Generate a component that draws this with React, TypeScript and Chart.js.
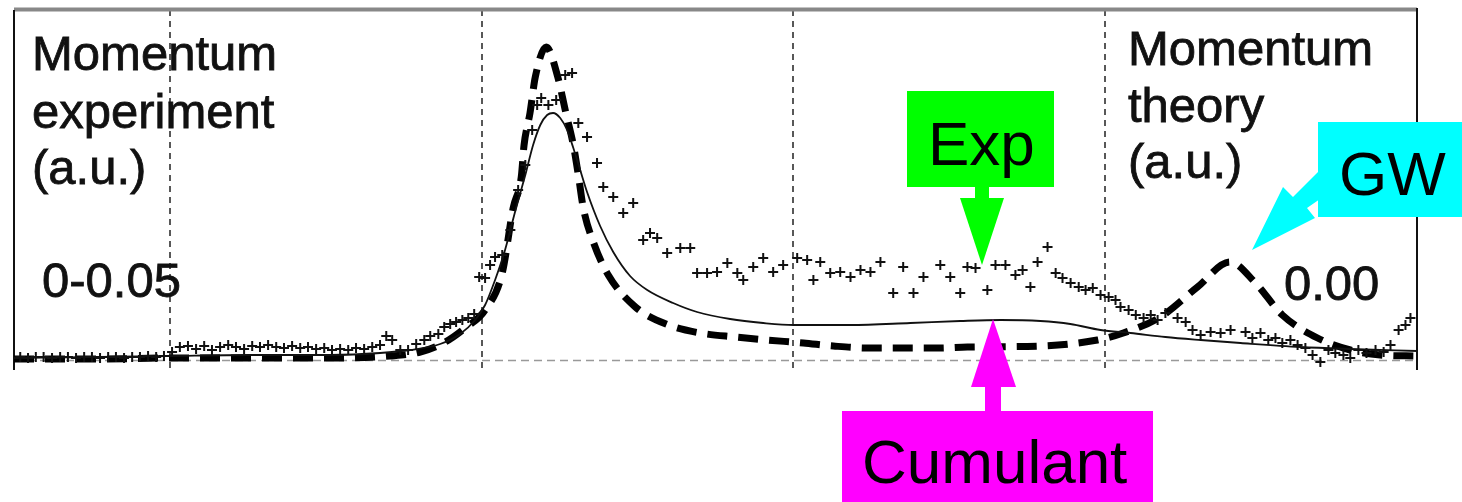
import React, { useEffect, useRef } from "react";
import { Chart, registerables } from "chart.js";

Chart.register(...registerables);

// ---------- data (x in grid units, y in arbitrary momentum units) ----------
const expX = [
  -0.48, -0.455, -0.43, -0.405, -0.378, -0.352, -0.327, -0.301, -0.275, -0.25, -0.224, -0.198, -0.173, -0.147, -0.121,
  -0.096, -0.07, -0.044, -0.019, 0.007, 0.032, 0.058, 0.084, 0.11, 0.135, 0.161, 0.187, 0.212, 0.238, 0.264, 0.289,
  0.315, 0.341, 0.366, 0.392, 0.418, 0.443, 0.469, 0.495, 0.52, 0.546, 0.572, 0.597, 0.623, 0.649, 0.674, 0.694,
  0.713, 0.739, 0.764, 0.79, 0.816, 0.835, 0.861, 0.88, 0.899, 0.918, 0.938, 0.957, 0.976, 0.992, 1.011, 1.027,
  1.043, 1.066, 1.092, 1.117, 1.14, 1.162, 1.178, 1.191, 1.214, 1.239, 1.268, 1.29, 1.31, 1.338, 1.37, 1.39, 1.422,
  1.454, 1.486, 1.518, 1.54, 1.563, 1.595, 1.637, 1.669, 1.691, 1.723, 1.755, 1.788, 1.82, 1.839, 1.871, 1.903,
  1.935, 1.967, 2.012, 2.044, 2.064, 2.086, 2.118, 2.15, 2.183, 2.215, 2.247, 2.279, 2.32, 2.352, 2.385, 2.417,
  2.471, 2.503, 2.535, 2.558, 2.584, 2.622, 2.648, 2.68, 2.712, 2.735, 2.76, 2.783, 2.815, 2.841, 2.863, 2.889,
  2.915, 2.937, 2.96, 2.985, 3.011, 3.033, 3.049, 3.075, 3.098, 3.123, 3.146, 3.168, 3.193, 3.232, 3.258, 3.28,
  3.306, 3.338, 3.37, 3.402, 3.45, 3.472, 3.498, 3.523, 3.546, 3.568, 3.594, 3.617, 3.642, 3.665, 3.69, 3.716,
  3.738, 3.764, 3.786, 3.812, 3.838, 3.867, 3.893, 3.915, 3.941, 3.963, 3.979,
];
const expY = [
  0.03, 0.02, 0.03, 0.03, 0.02, 0.03, 0.03, 0.02, 0.03, 0.03, 0.02, 0.03, 0.03, 0.02, 0.03,
  0.03, 0.04, 0.03, 0.04, 0.08, 0.13, 0.14, 0.11, 0.14, 0.1, 0.13, 0.15, 0.13, 0.11, 0.14, 0.13,
  0.15, 0.13, 0.12, 0.14, 0.12, 0.13, 0.11, 0.12, 0.1, 0.11, 0.1, 0.12, 0.11, 0.13, 0.15, 0.24,
  0.2, 0.1, 0.1, 0.16, 0.2, 0.24, 0.26, 0.33, 0.36, 0.38, 0.4, 0.42, 0.46, 0.83, 0.82, 0.95,
  1.03, 1.05, 1.3, 1.7, 1.95, 2.3, 2.55, 2.62, 2.55, 2.6, 2.85, 2.87, 2.37, 2.23, 1.97, 1.73, 1.63,
  1.47, 1.57, 1.2, 1.27, 1.22, 1.07, 1.12, 1.12, 0.87, 0.87, 0.88, 0.97, 0.87, 0.8, 0.93, 1.02,
  0.88, 0.95, 1.02, 1.0, 0.8, 0.98, 0.87, 0.88, 0.83, 0.9, 0.88, 0.98, 0.67, 0.93, 0.67, 0.83,
  0.95, 0.83, 0.67, 0.93, 0.92, 0.7, 0.95, 0.95, 0.85, 0.9, 0.73, 0.98, 1.13, 0.87, 0.82, 0.77,
  0.73, 0.7, 0.72, 0.65, 0.63, 0.6, 0.53, 0.5, 0.45, 0.42, 0.45, 0.4, 0.47, 0.42, 0.38, 0.3,
  0.25, 0.28, 0.27, 0.3, 0.28, 0.22, 0.27, 0.2, 0.22, 0.17, 0.2, 0.15, 0.12, 0.05, -0.02, 0.1,
  0.07, 0.05, 0.02, 0.1, 0.07, 0.1, 0.08, 0.15, 0.3, 0.35, 0.42,
];

const cumX = [
  -0.5, -0.224, 0, 0.257, 0.514, 0.674, 0.771, 0.867, 0.931, 0.979, 1.011, 1.043, 1.075, 1.107, 1.14, 1.165,
  1.188, 1.21, 1.229, 1.252, 1.274, 1.294, 1.316, 1.338, 1.38, 1.422, 1.476, 1.531, 1.614, 1.691, 1.797, 1.903,
  2.0, 2.183, 2.375, 2.535, 2.664, 2.792, 2.888, 2.985, 3.081, 3.193, 3.306, 3.434, 3.626, 3.786, 4.0,
];
const cumY = [
  0.02, 0.03, 0.04, 0.05, 0.05, 0.07, 0.1, 0.16, 0.26, 0.4, 0.55, 0.8, 1.1, 1.48, 1.85, 2.15,
  2.35, 2.45, 2.47, 2.42, 2.3, 2.12, 1.9, 1.68, 1.34, 1.08, 0.84, 0.7, 0.57, 0.48, 0.41, 0.37,
  0.35, 0.35, 0.37, 0.39, 0.4, 0.39, 0.36, 0.3, 0.27, 0.23, 0.2, 0.17, 0.13, 0.11, 0.09,
];

const gwX = [
  -0.5, -0.224, 0, 0.257, 0.514, 0.706, 0.803, 0.883, 0.947, 1.011, 1.066, 1.101, 1.127, 1.136, 1.155, 1.172,
  1.207, 1.245, 1.268, 1.294, 1.31, 1.326, 1.358, 1.406, 1.493, 1.599, 1.701, 1.814, 1.916, 2.032, 2.128, 2.24,
  2.462, 2.558, 2.792, 2.975, 3.058, 3.177, 3.296, 3.4, 3.482, 3.568, 3.681, 3.786, 3.882, 4.0,
];
const gwY = [
  0.01, 0.01, 0.02, 0.02, 0.02, 0.04, 0.08, 0.18, 0.32, 0.5, 0.87, 1.52, 1.83, 2.15, 2.47, 2.83,
  3.13, 2.82, 2.5, 2.15, 1.85, 1.52, 1.18, 0.85, 0.53, 0.35, 0.27, 0.23, 0.2, 0.17, 0.14, 0.12,
  0.12, 0.13, 0.14, 0.2, 0.27, 0.43, 0.73, 0.98, 0.77, 0.45, 0.22, 0.1, 0.05, 0.04,
];

const gridX = [0, 1, 2, 3];
const leftLabel = ["Momentum", "experiment", "(a.u.)"];
const rightLabel = ["Momentum", "theory", "(a.u.)"];
const leftTick = "0-0.05";
const rightTick = "0.00";
const expTag = "Exp";
const gwTag = "GW";
const cumTag = "Cumulant";

const FONT = '"Liberation Sans", Arial, Helvetica, sans-serif';

const pts = (xs: number[], ys: number[]) => xs.map((v, i) => ({ x: v, y: ys[i] }));

const decor = {
  id: "decor",
  beforeDatasetsDraw(chart: any) {
    const { ctx, chartArea: a, scales } = chart;
    const x = scales.x;
    const y = scales.y;
    ctx.save();
    // vertical dashed grid lines
    ctx.strokeStyle = "#222";
    ctx.lineWidth = 1.5;
    ctx.setLineDash([6, 5]);
    gridX.forEach((v) => {
      const px = Math.round(x.getPixelForValue(v));
      ctx.beginPath();
      ctx.moveTo(px, a.top);
      ctx.lineTo(px, a.bottom);
      ctx.stroke();
    });
    // zero baseline
    const by = Math.round(y.getPixelForValue(0)) + 0.5;
    ctx.strokeStyle = "#999";
    ctx.lineWidth = 1.5;
    ctx.setLineDash([8, 5]);
    ctx.beginPath();
    ctx.moveTo(a.left, by);
    ctx.lineTo(a.right, by);
    ctx.stroke();
    ctx.setLineDash([]);
    // frame
    ctx.strokeStyle = "#888";
    ctx.lineWidth = 4;
    ctx.beginPath();
    ctx.moveTo(a.left, a.top - 0.5);
    ctx.lineTo(a.right, a.top - 0.5);
    ctx.stroke();
    ctx.strokeStyle = "#111";
    ctx.lineWidth = 2;
    ctx.beginPath();
    ctx.moveTo(a.left, a.top);
    ctx.lineTo(a.left, a.bottom);
    ctx.moveTo(a.right, a.top - 2);
    ctx.lineTo(a.right, a.bottom);
    ctx.stroke();
    ctx.restore();
  },
  afterDatasetsDraw(chart: any) {
    const { ctx } = chart;
    ctx.save();
    ctx.fillStyle = "#111";
    ctx.strokeStyle = "#111";
    ctx.lineWidth = 0.8;
    ctx.textBaseline = "alphabetic";
    ctx.textAlign = "left";
    ctx.font = `49px ${FONT}`;
    const draw = (t: string, px: number, py: number) => {
      ctx.fillText(t, px, py);
      ctx.strokeText(t, px, py);
    };
    const lb = [70, 128, 184];
    leftLabel.forEach((t, i) => draw(t, 32, lb[i]));
    const rb = [65, 122, 178];
    rightLabel.forEach((t, i) => draw(t, 1128, rb[i]));
    draw(leftTick, 42, 297);
    draw(rightTick, 1284, 300);

    // --- Exp (green) ---
    ctx.fillStyle = "#00ff00";
    ctx.fillRect(907, 91, 147, 96);
    ctx.fillRect(975, 186, 14, 13);
    ctx.beginPath();
    ctx.moveTo(960, 198);
    ctx.lineTo(1004, 198);
    ctx.lineTo(982, 265);
    ctx.closePath();
    ctx.fill();

    // --- Cumulant (magenta) ---
    ctx.fillStyle = "#ff00ff";
    ctx.fillRect(842, 411, 311, 91);
    ctx.fillRect(985, 386, 16, 26);
    ctx.beginPath();
    ctx.moveTo(971, 387);
    ctx.lineTo(1016, 387);
    ctx.lineTo(993, 319);
    ctx.closePath();
    ctx.fill();

    // --- GW (cyan) ---
    ctx.fillStyle = "#00ffff";
    ctx.beginPath();
    ctx.moveTo(1252, 250);
    ctx.lineTo(1283, 187);
    ctx.lineTo(1293, 197);
    ctx.lineTo(1320, 170);
    ctx.lineTo(1320, 199);
    ctx.lineTo(1307, 208);
    ctx.lineTo(1315, 218);
    ctx.closePath();
    ctx.fill();
    ctx.fillRect(1318, 122, 144, 95);

    // tag texts
    ctx.fillStyle = "#000";
    ctx.font = `62px ${FONT}`;
    ctx.fillText(expTag, 928, 165);
    ctx.fillText(gwTag, 1339, 195);
    ctx.fillText(cumTag, 862, 483);
    ctx.restore();
  },
};

export default function App() {
  const ref = useRef<HTMLCanvasElement | null>(null);
  useEffect(() => {
    if (!ref.current) return;
    const chart = new Chart(ref.current, {
      type: "scatter",
      data: {
        datasets: [
          {
            label: "Exp",
            data: pts(expX, expY),
            showLine: false,
            pointStyle: "cross",
            pointRadius: 5,
            pointBorderWidth: 2,
            borderColor: "#111",
            backgroundColor: "#111",
          },
          {
            label: "Cumulant",
            data: pts(cumX, cumY),
            showLine: true,
            borderColor: "#111",
            borderWidth: 1.8,
            pointRadius: 0,
            cubicInterpolationMode: "monotone",
          },
          {
            label: "GW",
            data: pts(gwX, gwY),
            showLine: true,
            borderColor: "#000",
            borderWidth: 7,
            borderDash: [20, 11],
            borderCapStyle: "butt",
            pointRadius: 0,
            cubicInterpolationMode: "monotone",
          },
        ],
      },
      options: {
        animation: false,
        responsive: true,
        maintainAspectRatio: false,
        devicePixelRatio: 1,
        layout: { padding: { left: 14, right: 45, top: 10, bottom: 132 } },
        plugins: { legend: { display: false }, tooltip: { enabled: false } },
        events: [],
        scales: {
          x: { type: "linear", min: -0.5, max: 4, display: false },
          y: { type: "linear", min: -0.1, max: 3.5, display: false },
        },
      },
      plugins: [decor],
    });
    return () => chart.destroy();
  }, []);
  return (
    <div style={{ position: "fixed", left: 0, top: 0, width: 1462, height: 502, background: "#fff" }}>
      <canvas ref={ref} />
    </div>
  );
}
